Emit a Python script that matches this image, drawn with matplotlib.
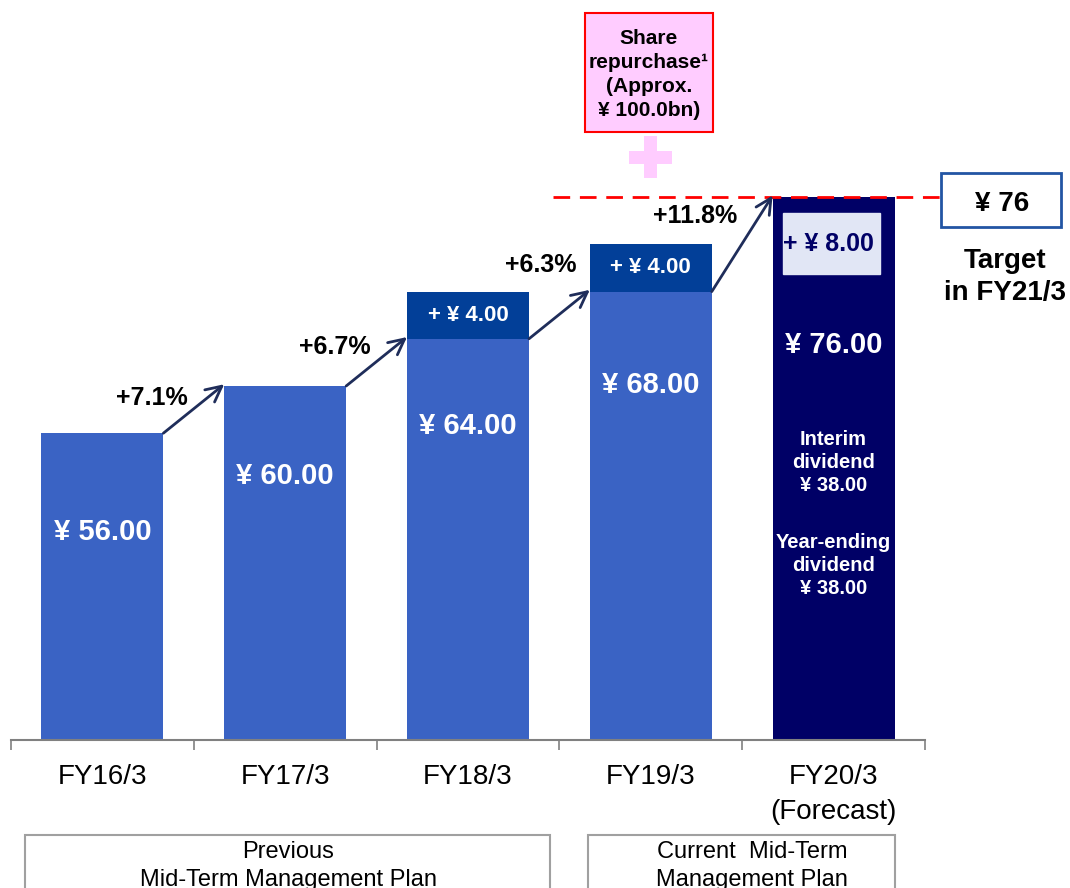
import matplotlib.pyplot as plt
from matplotlib.patches import Rectangle

plt.rcParams['font.family'] = ['Liberation Sans', 'DejaVu Sans']

categories = ["FY16/3", "FY17/3", "FY18/3", "FY19/3", "FY20/3\n(Forecast)"]
base_values = [56, 60, 64, 68, 76]
increase = [0, 0, 4, 4, 0]
growth = ["+7.1%", "+6.7%", "+6.3%", "+11.8%"]
target = 76

BLUE = "#3A63C4"
DARK = "#023F98"
NAVY = "#000066"
ARROW = "#1F2D5A"

fig = plt.figure(figsize=(10.7, 8.88), dpi=100)
ax = fig.add_axes([11 / 1070, 148 / 888, 914 / 1070, 740 / 888])
ymin = 30
ax.set_xlim(-0.5, 4.5)
ax.set_ylim(ymin, ymin + 740 / 11.8)

w = 0.667
x = range(len(categories))
colors = [BLUE, BLUE, BLUE, BLUE, NAVY]
ax.bar(x, [v - ymin for v in base_values], bottom=ymin, width=w, color=colors)
ax.bar(x, increase, bottom=base_values, width=w, color=DARK)

# value labels inside the bars
label_y = [47.6, 52.4, 56.6, 60.1, 63.5]
for i, v in enumerate(base_values):
    ax.text(i, label_y[i], f"¥ {v:.2f}", color="white", fontsize=21,
            fontweight="bold", ha="center", va="center")
    if increase[i]:
        ax.text(i, v + increase[i] / 2, f"+ ¥ {increase[i]:.2f}", color="white",
                fontsize=16, fontweight="bold", ha="center", va="center")

# FY20 extra box
ax.add_patch(Rectangle((4 - w / 2 + 0.055, 69.5), 0.53, 5.2, color="#E1E6F5"))
ax.text(4 - 0.03, 72.0, "+ ¥ 8.00", color=NAVY, fontsize=18, fontweight="bold",
        ha="center", va="center")
ax.text(4, 53.5, "Interim\ndividend\n¥ 38.00", color="white", fontsize=14.5,
        fontweight="bold", ha="center", va="center", linespacing=1.25)
ax.text(4, 44.8, "Year-ending\ndividend\n¥ 38.00", color="white", fontsize=14.5,
        fontweight="bold", ha="center", va="center", linespacing=1.25)

# growth arrows
label_pos = [(0.27, 59.0), (1.27, 63.3), (2.4, 70.25), (3.24, 74.4)]
for i in range(4):
    ax.annotate("", xy=(i + 1 - w / 2, base_values[i + 1] + 0.15),
                xytext=(i + w / 2, base_values[i]),
                arrowprops=dict(arrowstyle="->", color=ARROW, lw=2,
                                mutation_scale=28, shrinkA=0, shrinkB=0))
    ax.text(label_pos[i][0], label_pos[i][1], growth[i], fontsize=18,
            fontweight="bold", ha="center", va="center")

# target line and box
ax.plot([2.465, 4.588], [target, target], color="#FF0000", lw=2,
        dashes=(6, 3.5), clip_on=False, zorder=1)
ax.add_patch(Rectangle((4.588, 73.5), 0.657, 4.55, facecolor="white",
                       edgecolor="#2255A4", lw=2, clip_on=False))
ax.text(4.92, 75.4, f"¥ {target}", fontsize=20, fontweight="bold",
        ha="center", va="center", clip_on=False)
ax.text(4.94, 69.25, "Target\nin FY21/3", fontsize=20, fontweight="bold",
        ha="center", va="center", linespacing=1.3, clip_on=False)

# share repurchase box and pink plus
ax.add_patch(Rectangle((2.64, 81.5), 0.70, 10.1, facecolor="#FFCCFF",
                       edgecolor="#FF0000", lw=1.5, clip_on=False))
ax.text(2.99, 86.4, "Share\nrepurchase¹\n(Approx.\n¥ 100.0bn)", fontsize=15,
        fontweight="bold", ha="center", va="center", linespacing=1.35)
ax.add_patch(Rectangle((3.0 - 0.118, 78.85), 0.236, 1.1, color="#FFCCFF", lw=0))
ax.add_patch(Rectangle((3.0 - 0.036, 77.65), 0.072, 3.5, color="#FFCCFF", lw=0))

# axes styling
for s in ["top", "left", "right"]:
    ax.spines[s].set_visible(False)
ax.spines["bottom"].set_color("#808080")
ax.spines["bottom"].set_linewidth(1.5)
ax.set_yticks([])
ax.set_xticks([i - 0.5 for i in range(6)], minor=True)
ax.tick_params(axis="x", which="minor", length=7, width=1.2, color="#808080")
ax.set_xticks(list(x))
ax.set_xticklabels(categories, fontsize=20, linespacing=1.45)
ax.tick_params(axis="x", which="major", length=0, pad=17)

# plan boxes at the bottom
fig.add_artist(Rectangle((25 / 1070, -0.05), 525 / 1070, 0.05 + 53 / 888,
                         transform=fig.transFigure, facecolor="white",
                         edgecolor="#A0A0A0", lw=1.5))
fig.add_artist(Rectangle((588 / 1070, -0.05), 307 / 1070, 0.05 + 53 / 888,
                         transform=fig.transFigure, facecolor="white",
                         edgecolor="#A0A0A0", lw=1.5))
fig.text(288 / 1070, 1 - 866 / 888, "Previous\nMid-Term Management Plan",
         fontsize=17, ha="center", va="center", linespacing=1.4)
fig.text(752 / 1070, 1 - 866 / 888, "Current  Mid-Term\nManagement Plan",
         fontsize=17, ha="center", va="center", linespacing=1.4)

fig.savefig("out.png", dpi=100)
